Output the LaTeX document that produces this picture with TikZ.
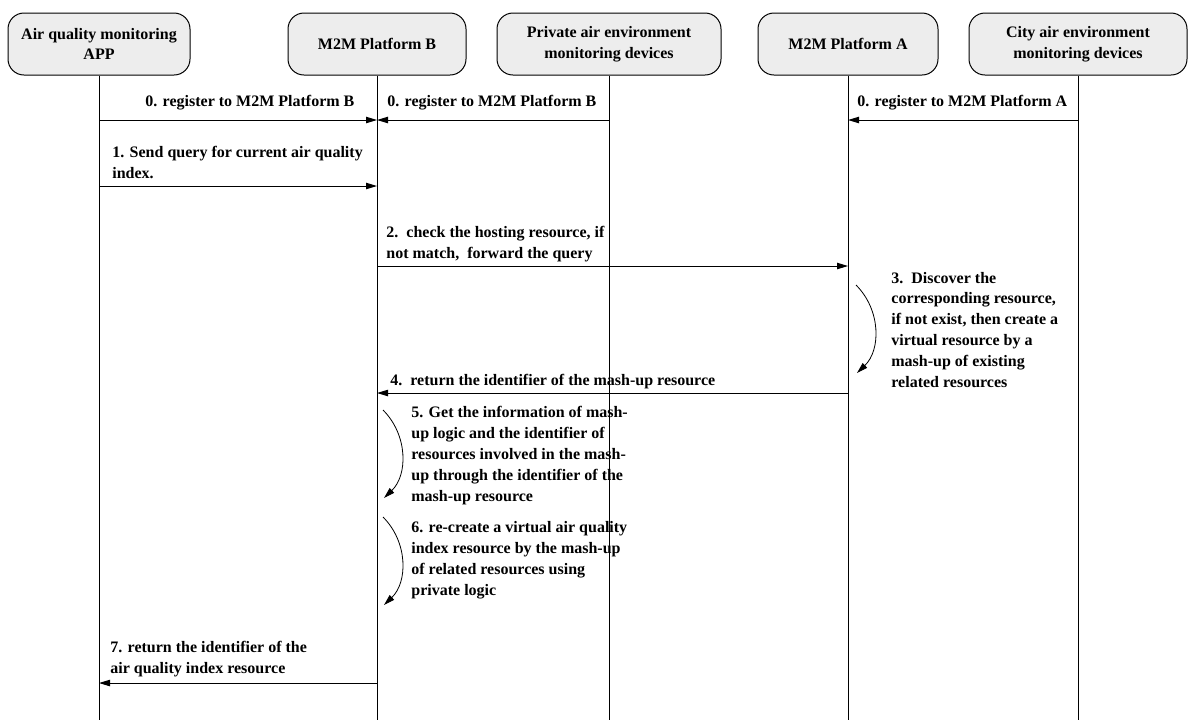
\documentclass[tikz,border=0pt]{standalone}
\usepackage{fontspec}
\setmainfont{Liberation Serif}
\usetikzlibrary{arrows.meta}

\begin{document}
\begin{tikzpicture}[x=0.5pt, y=-0.5pt,
      >={Triangle[length=5.5pt, width=3.2pt]},
      hd/.style={draw, rounded corners=8pt, fill=black!7, line width=0.5pt, minimum height=31pt, align=center, inner sep=1pt, font=\fontsize{8}{10.4}\selectfont\bfseries},
      life/.style={line width=0.5pt},
      msg/.style={->, line width=0.5pt},
      self/.style={->, line width=0.4pt},
      lbl/.style={anchor=base west, align=left, inner sep=0pt, font=\fontsize{8}{10.4}\selectfont\bfseries}]
    \useasboundingbox (0,0) rectangle (1188,720);
    \foreach \n/\x/\w/\t in {app/99/91pt/{Air quality monitoring\\APP}, b/377/89pt/{M2M Platform B}, pd/609/112pt/{Private air environment\\monitoring devices}, a/848/90pt/{M2M Platform A}, cd/1078/109pt/{City air environment\\monitoring devices}} {
      \node[hd, minimum width=\w] (h\n) at (\x, 44) {\t};
      \draw[life] (h\n.south) -- (h\n |- 0,720);
    }
    % registration
    \draw[msg] (happ |- 0,120) -- (hb |- 0,120);
    \draw[msg] (hpd |- 0,120) -- (hb |- 0,120);
    \draw[msg] (hcd |- 0,120) -- (ha |- 0,120);
    \node[lbl] (l0app) at (145,106) {0. register to M2M Platform B};
    \node[lbl] (l0pd) at (387,106) {0. register to M2M Platform B};
    \node[lbl] (l0cd) at (857,106) {0. register to M2M Platform A};
    % query (label base = last line)
    \draw[msg] (happ |- 0,186) -- (hb |- 0,186);
    \node[lbl] (l1) at (112,178) {1. Send query for current air quality\\index.};
    \draw[msg] (hb |- 0,266) -- (ha |- 0,266);
    \node[lbl] (l2) at (386,258) {2.\ \ check the hosting resource, if\\not match,\ \ forward the query};
    \draw[self] (856,285) .. controls (881,310) and (881,350) .. (857,373);
    \node[lbl] (l3) at (891,387) {3.\ \ Discover the\\corresponding resource,\\if not exist, then create a\\virtual resource by a\\mash-up of existing\\related resources};
    \draw[msg] (ha |- 0,393) -- (hb |- 0,393);
    \node[lbl] (l4) at (390,385) {4.\ \ return the identifier of the mash-up resource};
    \draw[self] (383,410) .. controls (408,435) and (408,475) .. (384,498);
    \node[lbl] (l5) at (411,501) {5. Get the information of mash-\\up logic and the identifier of\\resources involved in the mash-\\up through the identifier of the\\mash-up resource};
    \draw[self] (383,517) .. controls (408,542) and (408,582) .. (384,605);
    \node[lbl] (l6) at (411,595) {6. re-create a virtual air quality\\index resource by the mash-up\\of related resources using\\private logic};
    \draw[msg] (hb |- 0,683) -- (happ |- 0,683);
    \node[lbl] (l7) at (110,673) {7. return the identifier of the\\air quality index resource};
\end{tikzpicture}
\end{document}
